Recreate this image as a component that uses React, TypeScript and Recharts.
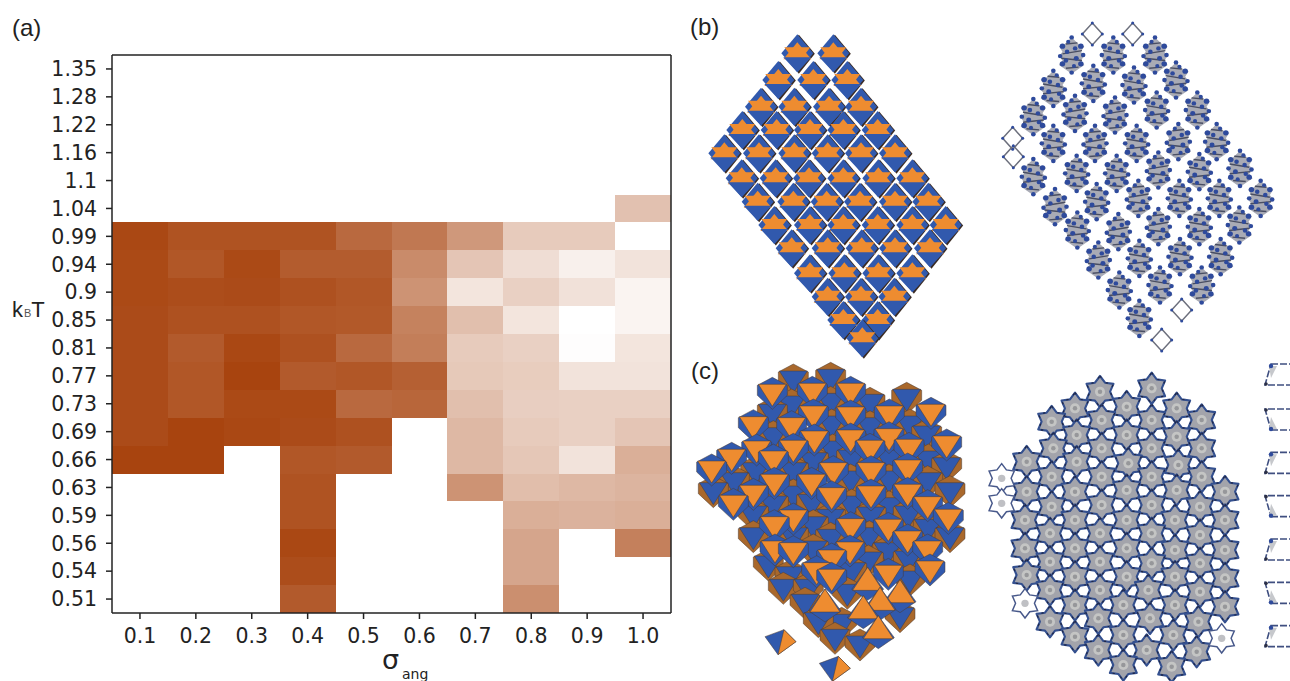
import { Bar, BarChart, Cell, ReferenceLine, Scatter, ScatterChart, XAxis, YAxis } from "recharts";

const sigmaLabels = ["0.1", "0.2", "0.3", "0.4", "0.5", "0.6", "0.7", "0.8", "0.9", "1.0"];
const tempLabels = ["1.35", "1.28", "1.22", "1.16", "1.1", "1.04", "0.99", "0.94", "0.9", "0.85", "0.81", "0.77", "0.73", "0.69", "0.66", "0.63", "0.59", "0.56", "0.54", "0.51"];

const _ = null;
// heat values, one row per temperature, same order as tempLabels
const heatRows: (number | null)[][] = [
  [_, _, _, _, _, _, _, _, _, _],
  [_, _, _, _, _, _, _, _, _, _],
  [_, _, _, _, _, _, _, _, _, _],
  [_, _, _, _, _, _, _, _, _, _],
  [_, _, _, _, _, _, _, _, _, _],
  [_, _, _, _, _, _, _, _, _, 0.33],
  [0.98, 0.92, 0.92, 0.92, 0.8, 0.72, 0.55, 0.28, 0.28, 0],
  [0.97, 0.9, 0.97, 0.87, 0.87, 0.62, 0.31, 0.18, 0.08, 0.15],
  [0.97, 0.95, 0.96, 0.93, 0.9, 0.58, 0.14, 0.25, 0.16, 0.06],
  [0.96, 0.93, 0.93, 0.9, 0.89, 0.67, 0.34, 0.14, 0, 0.06],
  [0.96, 0.88, 0.98, 0.93, 0.8, 0.69, 0.28, 0.25, 0.01, 0.14],
  [0.96, 0.9, 1, 0.88, 0.9, 0.85, 0.29, 0.27, 0.15, 0.15],
  [0.96, 0.9, 0.97, 0.97, 0.8, 0.82, 0.34, 0.26, 0.25, 0.25],
  [0.96, 1, 0.98, 0.96, 0.93, _, 0.38, 0.28, 0.25, 0.31],
  [1, 1, _, 0.9, 0.88, _, 0.38, 0.3, 0.15, 0.43],
  [_, _, _, 0.92, _, _, 0.58, 0.35, 0.38, 0.4],
  [_, _, _, 0.92, _, _, _, 0.43, 0.41, 0.43],
  [_, _, _, 0.98, _, _, _, 0.48, _, 0.68],
  [_, _, _, 0.95, _, _, _, 0.48, _, _],
  [_, _, _, 0.88, _, _, _, 0.6, _, _],
];

// panel (b), octahedra seen from the side
const sideTiles = [
  [337, 130], [445, 130],
  [280, 210], [385, 210], [487, 210],
  [228, 290], [328, 290], [432, 290], [528, 290],
  [172, 360], [275, 360], [375, 360], [475, 360], [578, 360],
  [118, 430], [222, 430], [328, 430], [428, 430], [528, 430], [630, 430],
  [170, 505], [272, 505], [372, 505], [475, 505], [580, 505], [682, 505],
  [218, 575], [325, 575], [425, 575], [525, 575], [630, 575], [730, 575],
  [268, 645], [375, 645], [475, 645], [578, 645], [682, 645], [782, 645],
  [320, 715], [428, 715], [530, 715], [630, 715], [735, 715],
  [375, 790], [478, 790], [580, 790], [682, 790],
  [428, 860], [528, 860], [628, 860],
  [475, 930], [578, 930],
  [532, 985],
];

// panel (b) right, backbone view
const sideCages = [
  [245, 135], [370, 135], [495, 135],
  [190, 235], [310, 220], [432, 225], [558, 210],
  [130, 320], [255, 310], [375, 315], [500, 300], [622, 300],
  [190, 400], [315, 400], [440, 400], [565, 395], [680, 395],
  [130, 500], [260, 490], [380, 490], [505, 480], [628, 485], [750, 475],
  [195, 590], [320, 575], [445, 565], [568, 565], [688, 565], [812, 565],
  [262, 660], [385, 665], [505, 650], [628, 650], [748, 645],
  [325, 750], [448, 745], [570, 740], [692, 740],
  [388, 840], [510, 825], [635, 825],
  [448, 925],
];
const sideRings = [[307, 72], [428, 72], [68, 385], [70, 440], [575, 900], [515, 990]];

// panel (c), octahedra seen from the top
const blueTiles = [
  [325, 75], [437, 70], [665, 130], [555, 145], [320, 150], [437, 142],
  [262, 175], [440, 210], [555, 215], [675, 210], [725, 240], [265, 245],
  [443, 285], [730, 315], [785, 335], [385, 320], [500, 312], [612, 312],
  [212, 350], [325, 350], [148, 380], [497, 375], [612, 375], [728, 380], [795, 410],
  [85, 410], [325, 420], [265, 450], [380, 445], [500, 450], [612, 455],
  [205, 480], [437, 490], [558, 483], [670, 480], [385, 512], [730, 520], [795, 545],
  [205, 545], [325, 545], [437, 550], [553, 545], [385, 585], [608, 590],
  [550, 618], [670, 615], [250, 630], [500, 650], [675, 675], [315, 662],
  [295, 700], [370, 700], [487, 715], [360, 745], [470, 805], [400, 800], [645, 785],
  [450, 850], [525, 870],
];
const orangeTiles = [
  [262, 115], [382, 112], [497, 112], [738, 175], [613, 180], [497, 183], [385, 180],
  [205, 212], [320, 215], [785, 270], [388, 255], [497, 252], [612, 248],
  [215, 285], [325, 283], [140, 310], [555, 283], [672, 280], [265, 315],
  [80, 345], [445, 350], [558, 350], [668, 342], [268, 385], [380, 385],
  [205, 418], [440, 425], [558, 420], [668, 415], [145, 448], [728, 452], [790, 490],
  [325, 492], [268, 512], [497, 518], [610, 520], [668, 555], [270, 585], [495, 588],
  [728, 585], [325, 590], [440, 612], [735, 645], [395, 650], [610, 658], [440, 670],
];
const upTiles = [[548, 685], [645, 722], [585, 745], [420, 750], [535, 770], [580, 830]];
const splitTiles = [[285, 860], [448, 940]];

// panel (c) right, backbone view
const starCages = [
  [345, 110], [500, 100],
  [270, 160], [425, 155], [575, 160],
  [200, 200], [350, 195], [500, 195], [650, 195],
  [275, 240], [425, 240], [575, 245],
  [205, 280], [350, 280], [500, 280], [650, 280],
  [125, 320], [275, 320], [430, 325], [580, 330],
  [200, 365], [350, 365], [500, 365], [650, 365],
  [125, 410], [270, 410], [425, 405], [575, 405], [720, 410],
  [200, 455], [350, 450], [500, 450], [645, 455],
  [120, 495], [270, 495], [425, 495], [570, 495], [720, 495],
  [195, 535], [345, 535], [500, 535], [645, 540],
  [120, 580], [270, 580], [425, 580], [570, 585], [720, 585],
  [195, 620], [345, 620], [500, 625], [645, 625],
  [125, 660], [270, 665], [425, 665], [570, 665], [720, 670],
  [195, 705], [345, 705], [490, 705], [645, 710],
  [270, 750], [415, 750], [570, 750], [720, 755],
  [195, 800], [340, 790], [495, 790], [640, 800],
  [270, 845], [415, 840], [565, 840],
  [340, 885], [485, 885], [635, 890],
  [415, 930], [560, 935],
];
const starRings = [[50, 370], [50, 445], [120, 745], [710, 850]];
const frameTop = [[885, 60], [885, 325], [885, 585], [885, 845]];
const frameBottom = [[885, 195], [885, 455], [885, 715]];

const BROWN = [168, 68, 15];
const heatColor = (v: number) => {
  const c = BROWN.map((b) => Math.round(255 + (b - 255) * v));
  return `rgb(${c[0]},${c[1]},${c[2]})`;
};

const rowsBottomUp = tempLabels.map((t, i) => ({ t, values: heatRows[i] })).reverse();
const heatData = sigmaLabels.map((s) => {
  const row: Record<string, string | number> = { sigma: s };
  rowsBottomUp.forEach((r) => (row[r.t] = 1));
  return row;
});
const tempTicks = rowsBottomUp.map((_r, i) => i + 0.5);

const toPoints = (list: number[][]) => list.map(([x, y]) => ({ x, y }));

const BLUE = "#3159ad";
const ORANGE = "#ee8c30";
const TAN = "#a9682c";
const NAVY = "#2e4a9c";
const EDGE = "#4a3a30";

function SideTile({ cx, cy }: any) {
  return (
    <g transform={`translate(${cx},${cy})`}>
      <polygon points="0,-19 16,0 0,20 -16,0" fill="#3a2b24" transform="translate(1.5,0.5)" />
      <polygon points="0,-19 16,0 0,19 -16,0" fill={BLUE} />
      <polygon points="0,-11 14,6 -14,6" fill={ORANGE} />
      <polygon points="-13,-6 13,-6 0,11" fill={ORANGE} />
      <polygon points="-14,4 14,4 0,19" fill={BLUE} />
    </g>
  );
}

function TopTile({ cx, cy, back, front }: any) {
  return (
    <g transform={`translate(${cx},${cy})`}>
      <polygon points="-15,-8 0,-16 15,-8 15,2 0,16 -15,2" fill={back} stroke={EDGE} strokeWidth={0.5} />
      <polygon points="-14,-9 14,-9 0,13" fill={front} stroke={EDGE} strokeWidth={0.5} />
    </g>
  );
}

function UpTile({ cx, cy }: any) {
  return (
    <g transform={`translate(${cx},${cy})`}>
      <polygon points="0,-16 16,6 0,17 -16,6" fill={BLUE} stroke={EDGE} strokeWidth={0.5} />
      <polygon points="0,-16 15,7 -15,7" fill={ORANGE} stroke={EDGE} strokeWidth={0.5} />
    </g>
  );
}

function SplitTile({ cx, cy }: any) {
  return (
    <g transform={`translate(${cx},${cy})`}>
      <polygon points="-15,-5 4,-12 16,0 -2,13" fill={BLUE} stroke={EDGE} strokeWidth={0.5} />
      <polygon points="4,-12 16,0 -2,13" fill={ORANGE} stroke={EDGE} strokeWidth={0.5} />
    </g>
  );
}

const cageDots = [
  [0, -16, 2], [-8, -8, 2.4], [8, -8, 2.4], [-3, -6, 2], [4, -3, 2], [-10, 0, 2], [10, 1, 2],
  [-4, 3, 2.2], [5, 5, 2], [-8, 8, 2.4], [8, 8, 2.4], [0, 16, 2], [-2, 10, 1.8], [3, -12, 1.8],
];

function Cage({ cx, cy, payload }: any) {
  const flip = payload.x % 2 === 0 ? 1 : -1;
  return (
    <g transform={`translate(${cx},${cy}) scale(${flip * 1.15},1.1)`}>
      <polygon points="0,-16 7,-9 11,-8 8,-3 11,1 8,5 11,9 0,17 -11,9 -8,5 -11,1 -8,-3 -11,-8 -7,-9" fill="#a9abb5" />
      <path d="M-9,-4 L8,-1 M-9,5 L9,3 M-5,-11 L5,-10 M-6,11 L5,12" stroke="#494e63" strokeWidth={1.3} />
      {cageDots.map(([dx, dy, r]) => (
        <circle key={`${dx}_${dy}`} cx={dx} cy={dy} r={r} fill={NAVY} />
      ))}
    </g>
  );
}

function Ring({ cx, cy }: any) {
  return (
    <g transform={`translate(${cx},${cy})`}>
      <polygon points="0,-11 10,0 0,11 -10,0" fill="none" stroke="#6c6f7c" strokeWidth={1.5} />
      <circle cx={0} cy={-11} r={1.5} fill={NAVY} />
      <circle cx={10} cy={0} r={1.5} fill={NAVY} />
      <circle cx={0} cy={11} r={1.5} fill={NAVY} />
      <circle cx={-10} cy={0} r={1.5} fill={NAVY} />
    </g>
  );
}

const STAR = "0,-14 4.5,-8 12,-7 9,0 12,7 4.5,8 0,14 -4.5,8 -12,7 -9,0 -12,-7 -4.5,-8";

function StarCage({ cx, cy }: any) {
  return (
    <g transform={`translate(${cx},${cy}) scale(1.12)`}>
      <polygon points={STAR} fill="#a3a4ab" stroke="#34508f" strokeWidth={1.9} strokeLinejoin="round" />
      <circle r={4.5} fill="#c4c5c4" />
      <circle r={2} fill="#96979a" />
      <polygon points={STAR} fill="none" stroke="#1f2440" strokeWidth={1} strokeDasharray="2 6" />
    </g>
  );
}

function StarRing({ cx, cy }: any) {
  return (
    <g transform={`translate(${cx},${cy}) scale(1.05)`}>
      <polygon points={STAR} fill="#fff" stroke="#47588a" strokeWidth={1.4} />
      <circle r={3.5} fill="#bfc0c4" />
    </g>
  );
}

function Frame({ cx, cy, up }: any) {
  const pts = up ? "-9,-11 14,-11 14,10 -15,10" : "-9,10 14,10 14,-11 -15,-11";
  return (
    <g transform={`translate(${cx},${cy})`}>
      <polygon points={pts} fill="none" stroke="#3f4f80" strokeWidth={1.6} strokeDasharray="7 2" />
      <polygon points={up ? "-11,-9 -3,-9 -9,3" : "-11,9 -3,9 -9,-3"} fill="#c6c8cc" />
      <circle cx={-9} cy={up ? -9 : 9} r={2.2} fill={NAVY} />
      <circle cx={-14} cy={up ? 9 : -10} r={1.8} fill="#2b2f45" />
    </g>
  );
}

const panelStyle = (left: number, top: number): React.CSSProperties => ({ position: "absolute", left, top, filter: "blur(0.5px)" });

function Panel({ left, top, width, height, children }: any) {
  return (
    <div style={panelStyle(left, top)}>
      <ScatterChart width={width} height={height} margin={{ top: 0, right: 0, bottom: 0, left: 0 }}>
        <XAxis dataKey="x" type="number" domain={[0, width * 3]} hide />
        <YAxis dataKey="y" type="number" domain={[0, height * 3]} reversed hide />
        {children}
      </ScatterChart>
    </div>
  );
}

const textBase: React.CSSProperties = { position: "absolute", fontFamily: "Liberation Sans", color: "#222", lineHeight: 1, whiteSpace: "nowrap" };
const tickStyle = { fill: "#222", fontSize: 20.5, fontFamily: "DejaVu Sans" };
const axisLine = { stroke: "#222", strokeWidth: 1.5 };

export default function App() {
  return (
    <div style={{ position: "absolute", left: 0, top: 0, width: 1290, height: 681, overflow: "hidden", background: "#fff" }}>
      <div style={{ position: "absolute", left: 0, top: 0 }}>
        <BarChart
          width={720}
          height={681}
          data={heatData}
          barCategoryGap={0}
          barGap={0}
          margin={{ top: 55, right: 49, bottom: 28, left: 52 }}
        >
          <XAxis dataKey="sigma" height={40} tick={tickStyle} tickSize={6} tickMargin={9} axisLine={axisLine} tickLine={axisLine} interval={0} />
          <YAxis
            type="number"
            domain={[0, 20]}
            ticks={tempTicks}
            interval={0}
            width={60}
            tick={tickStyle}
            tickSize={6}
            tickMargin={9}
            axisLine={axisLine}
            tickLine={axisLine}
            tickFormatter={(v: number) => rowsBottomUp[Math.floor(v)].t}
          />
          {rowsBottomUp.map((r) => (
            <Bar key={r.t} dataKey={r.t} stackId="heat" isAnimationActive={false} shapeRendering="crispEdges">
              {sigmaLabels.map((s, i) => {
                const v = r.values[i];
                return <Cell key={s} fill={v === null ? "transparent" : heatColor(v)} />;
              })}
            </Bar>
          ))}
          <ReferenceLine y={20} stroke="#222" strokeWidth={1.5} />
          <ReferenceLine x="1.0" position="end" stroke="#222" strokeWidth={1.5} />
        </BarChart>
      </div>

      <Panel left={685} top={10} width={300} height={350}>
        <Scatter data={toPoints(sideTiles)} shape={SideTile} isAnimationActive={false} />
      </Panel>
      <Panel left={990} top={10} width={300} height={350}>
        <Scatter data={toPoints(sideCages)} shape={Cage} isAnimationActive={false} />
        <Scatter data={toPoints(sideRings)} shape={Ring} isAnimationActive={false} />
      </Panel>
      <Panel left={685} top={355} width={300} height={326}>
        <Scatter data={toPoints(blueTiles)} shape={(p: any) => <TopTile {...p} back={TAN} front={BLUE} />} isAnimationActive={false} />
        <Scatter data={toPoints(orangeTiles)} shape={(p: any) => <TopTile {...p} back={BLUE} front={ORANGE} />} isAnimationActive={false} />
        <Scatter data={toPoints(upTiles)} shape={UpTile} isAnimationActive={false} />
        <Scatter data={toPoints(splitTiles)} shape={SplitTile} isAnimationActive={false} />
      </Panel>
      <Panel left={985} top={355} width={305} height={326}>
        <Scatter data={toPoints(starCages)} shape={StarCage} isAnimationActive={false} />
        <Scatter data={toPoints(starRings)} shape={StarRing} isAnimationActive={false} />
        <Scatter data={toPoints(frameTop)} shape={(p: any) => <Frame {...p} up />} isAnimationActive={false} />
        <Scatter data={toPoints(frameBottom)} shape={(p: any) => <Frame {...p} />} isAnimationActive={false} />
      </Panel>

      <div style={{ ...textBase, left: 12, top: 16, fontSize: 24 }}>(a)</div>
      <div style={{ ...textBase, left: 690, top: 15, fontSize: 24 }}>(b)</div>
      <div style={{ ...textBase, left: 691, top: 359, fontSize: 24 }}>(c)</div>
      <div style={{ ...textBase, left: 12, top: 299, fontSize: 22 }}>
        k<span style={{ fontSize: 11, color: "#555", marginLeft: 1 }}>B</span>T
      </div>
      <div style={{ ...textBase, left: 382, top: 646, fontSize: 27, fontFamily: "DejaVu Sans" }}>σ</div>
      <div style={{ ...textBase, left: 402, top: 667, fontSize: 14, fontFamily: "DejaVu Sans" }}>ang</div>
    </div>
  );
}
